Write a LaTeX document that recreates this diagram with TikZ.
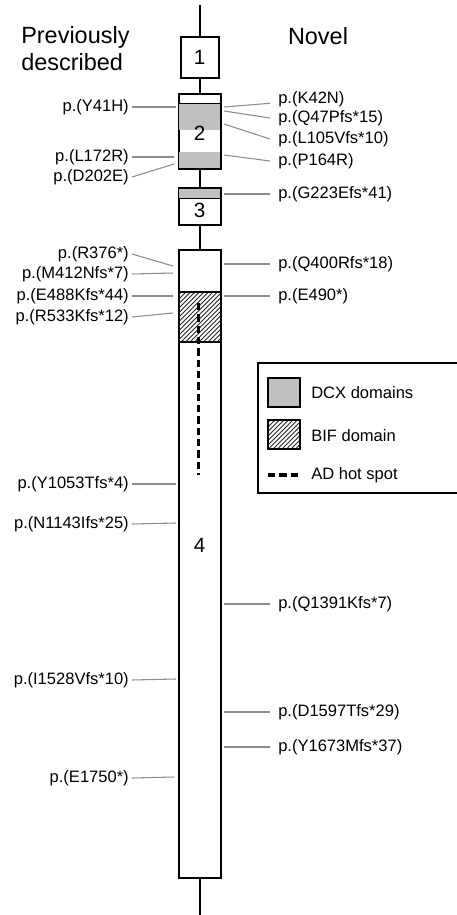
\documentclass[tikz,border=0pt]{standalone}
\usepackage{fontspec}
\setmainfont{Liberation Sans}
\definecolor{leadc}{HTML}{8C8C8C}
\definecolor{dcx}{HTML}{C0C0C0}
\begin{document}
\begin{tikzpicture}[x=0.75pt,y=-0.75pt,
  exon/.style={draw,line width=1.5pt,fill=white,inner sep=0pt,minimum width=31.5pt},
  lbl/.style={font=\fontsize{12.4}{14}\selectfont,inner ysep=0pt},
  lft/.style={lbl,anchor=east,inner xsep=2.25pt},
  rgt/.style={lbl,anchor=west,inner xsep=6pt},
  lead/.style={draw=leadc,line width=0.8pt},
  axis/.style={draw,line width=1.5pt},
  hatch/.style={line width=0.55pt,black!85},
  hotspot/.style={line width=2.4pt,dash pattern=on 5.5pt off 3pt},
  num/.style={font=\fontsize{15.5}{18}\selectfont,inner sep=0pt},
  head/.style={font=\fontsize{17.6}{20.25}\selectfont,inner sep=0pt},
  legtxt/.style={font=\fontsize{12.4}{14}\selectfont,inner sep=0pt,anchor=west}
]
\useasboundingbox (0,0) rectangle (457,915);

% headings
\node[head,anchor=west,align=left] (hprev) at (21,49) {Previously\\described};
\node[head] (hnov) at (318,36) {Novel};

% exons
\node[exon,minimum width=28.5pt,minimum height=30.75pt] (e1) at (199.5,57.5) {};
\node[exon,minimum height=56.25pt] (e2) at (199.5,131.5) {};
\node[exon,minimum height=27.75pt] (e3) at (199.5,206.5) {};
\node[exon,minimum height=471pt] (e4) at (199.5,564) {};

% axis
\coordinate (top) at (199.5,5);
\coordinate (bot) at (199.5,915);
\draw[axis] (top) -- (e1.north);
\draw[axis] (e1.south) -- (e2.north);
\draw[axis] (e2.south) -- (e3.north);
\draw[axis] (e3.south) -- (e4.north);
\draw[axis] (e4.south) -- (bot);

% DCX domains
\fill[dcx] (179.2,103) rectangle (219.8,130);
\fill[dcx] (179.2,152) rectangle (219.8,168);
\fill[dcx] (179.2,189) rectangle (219.8,198);
\draw[line width=0.6pt] (179.2,103) -- (219.8,103);
\draw[line width=0.6pt] (179.2,198) -- (219.8,198);

% BIF domain
\begin{scope}
\clip (179.2,292) rectangle (219.8,342);
\foreach \i in {-60,-55.5,...,60} \draw[hatch] (178+\i,342) -- ++(60,-60);
\end{scope}
\draw[line width=0.8pt] (179.2,292) -- (219.8,292);
\draw[line width=0.8pt] (179.2,342) -- (219.8,342);

% AD hot spot
\coordinate (hs1) at (198.5,303);
\coordinate (hs2) at (198.5,475);
\draw[hotspot] (hs1) -- (hs2);

% exon numbers
\node[num] (n1) at (199.5,57) {1};
\node[num] (n2) at (199.5,133) {2};
\node[num] (n3) at (199.5,210) {3};
\node[num] (n4) at (199.5,545) {4};

% left labels
\node[lft] (l1) at (132,107) {p.(Y41H)};
\coordinate (cl1) at (176,107);
\draw[lead] (l1.east) -- (cl1);
\node[lft] (l2) at (132,157) {p.(L172R)};
\coordinate (cl2) at (174,157);
\draw[lead] (l2.east) -- (cl2);
\node[lft] (l3) at (132,177) {p.(D202E)};
\coordinate (cl3) at (174,164);
\draw[lead] (l3.east) -- (cl3);
\node[lft] (l4) at (132,254) {p.(R376*)};
\coordinate (cl4) at (173,266);
\draw[lead] (l4.east) -- (cl4);
\node[lft] (l5) at (132,274) {p.(M412Nfs*7)};
\coordinate (cl5) at (173,273);
\draw[lead] (l5.east) -- (cl5);
\node[lft] (l6) at (132,296) {p.(E488Kfs*44)};
\coordinate (cl6) at (173,296);
\draw[lead] (l6.east) -- (cl6);
\node[lft] (l7) at (132,317) {p.(R533Kfs*12)};
\coordinate (cl7) at (173,313);
\draw[lead] (l7.east) -- (cl7);
\node[lft] (l8) at (132,484) {p.(Y1053Tfs*4)};
\coordinate (cl8) at (176,484);
\draw[lead] (l8.east) -- (cl8);
\node[lft] (l9) at (132,524) {p.(N1143Ifs*25)};
\coordinate (cl9) at (176,523);
\draw[lead] (l9.east) -- (cl9);
\node[lft] (l10) at (132,680) {p.(I1528Vfs*10)};
\coordinate (cl10) at (176,679);
\draw[lead] (l10.east) -- (cl10);
\node[lft] (l11) at (132,778) {p.(E1750*)};
\coordinate (cl11) at (174,777);
\draw[lead] (l11.east) -- (cl11);

% right labels
\node[rgt] (r1) at (270,99) {p.(K42N)};
\coordinate (cr1) at (224,107);
\draw[lead] (cr1) -- (r1.base west);
\node[rgt] (r2) at (270,118) {p.(Q47Pfs*15)};
\coordinate (cr2) at (224,111);
\draw[lead] (cr2) -- (r2.west);
\node[rgt] (r3) at (270,139) {p.(L105Vfs*10)};
\coordinate (cr3) at (224,124);
\draw[lead] (cr3) -- (r3.west);
\node[rgt] (r4) at (270,161) {p.(P164R)};
\coordinate (cr4) at (224,155);
\draw[lead] (cr4) -- (r4.west);
\node[rgt] (r5) at (270,194) {p.(G223Efs*41)};
\coordinate (cr5) at (224,194);
\draw[lead] (cr5) -- (r5.west);
\node[rgt] (r6) at (270,264) {p.(Q400Rfs*18)};
\coordinate (cr6) at (224,264);
\draw[lead] (cr6) -- (r6.west);
\node[rgt] (r7) at (270,296) {p.(E490*)};
\coordinate (cr7) at (224,296);
\draw[lead] (cr7) -- (r7.west);
\node[rgt] (r8) at (270,604) {p.(Q1391Kfs*7)};
\coordinate (cr8) at (224,604);
\draw[lead] (cr8) -- (r8.west);
\node[rgt] (r9) at (270,712) {p.(D1597Tfs*29)};
\coordinate (cr9) at (224,712);
\draw[lead] (cr9) -- (r9.west);
\node[rgt] (r10) at (270,747) {p.(Y1673Mfs*37)};
\coordinate (cr10) at (224,747);
\draw[lead] (cr10) -- (r10.west);

% legend
\draw[line width=1.5pt] (258,363) rectangle (470,493);
\node[draw,line width=0.8pt,fill=dcx,minimum width=24pt,minimum height=21.75pt,inner sep=0pt] (sw1) at (284,392.5) {};
\begin{scope}
\clip (268,420) rectangle (300,449);
\foreach \i in {-40,-35.5,...,40} \draw[hatch] (268+\i,449) -- ++(40,-40);
\end{scope}
\node[draw,line width=0.8pt,minimum width=24pt,minimum height=21.75pt,inner sep=0pt] (sw2) at (284,434.5) {};
\coordinate (sw3a) at (268,475);
\coordinate (sw3b) at (301,475);
\draw[hotspot] (sw3a) -- (sw3b);
\node[legtxt] (t1) at (311,393) {DCX domains};
\node[legtxt] (t2) at (311,436) {BIF domain};
\node[legtxt] (t3) at (311,475) {AD hot spot};
\end{tikzpicture}
\end{document}
